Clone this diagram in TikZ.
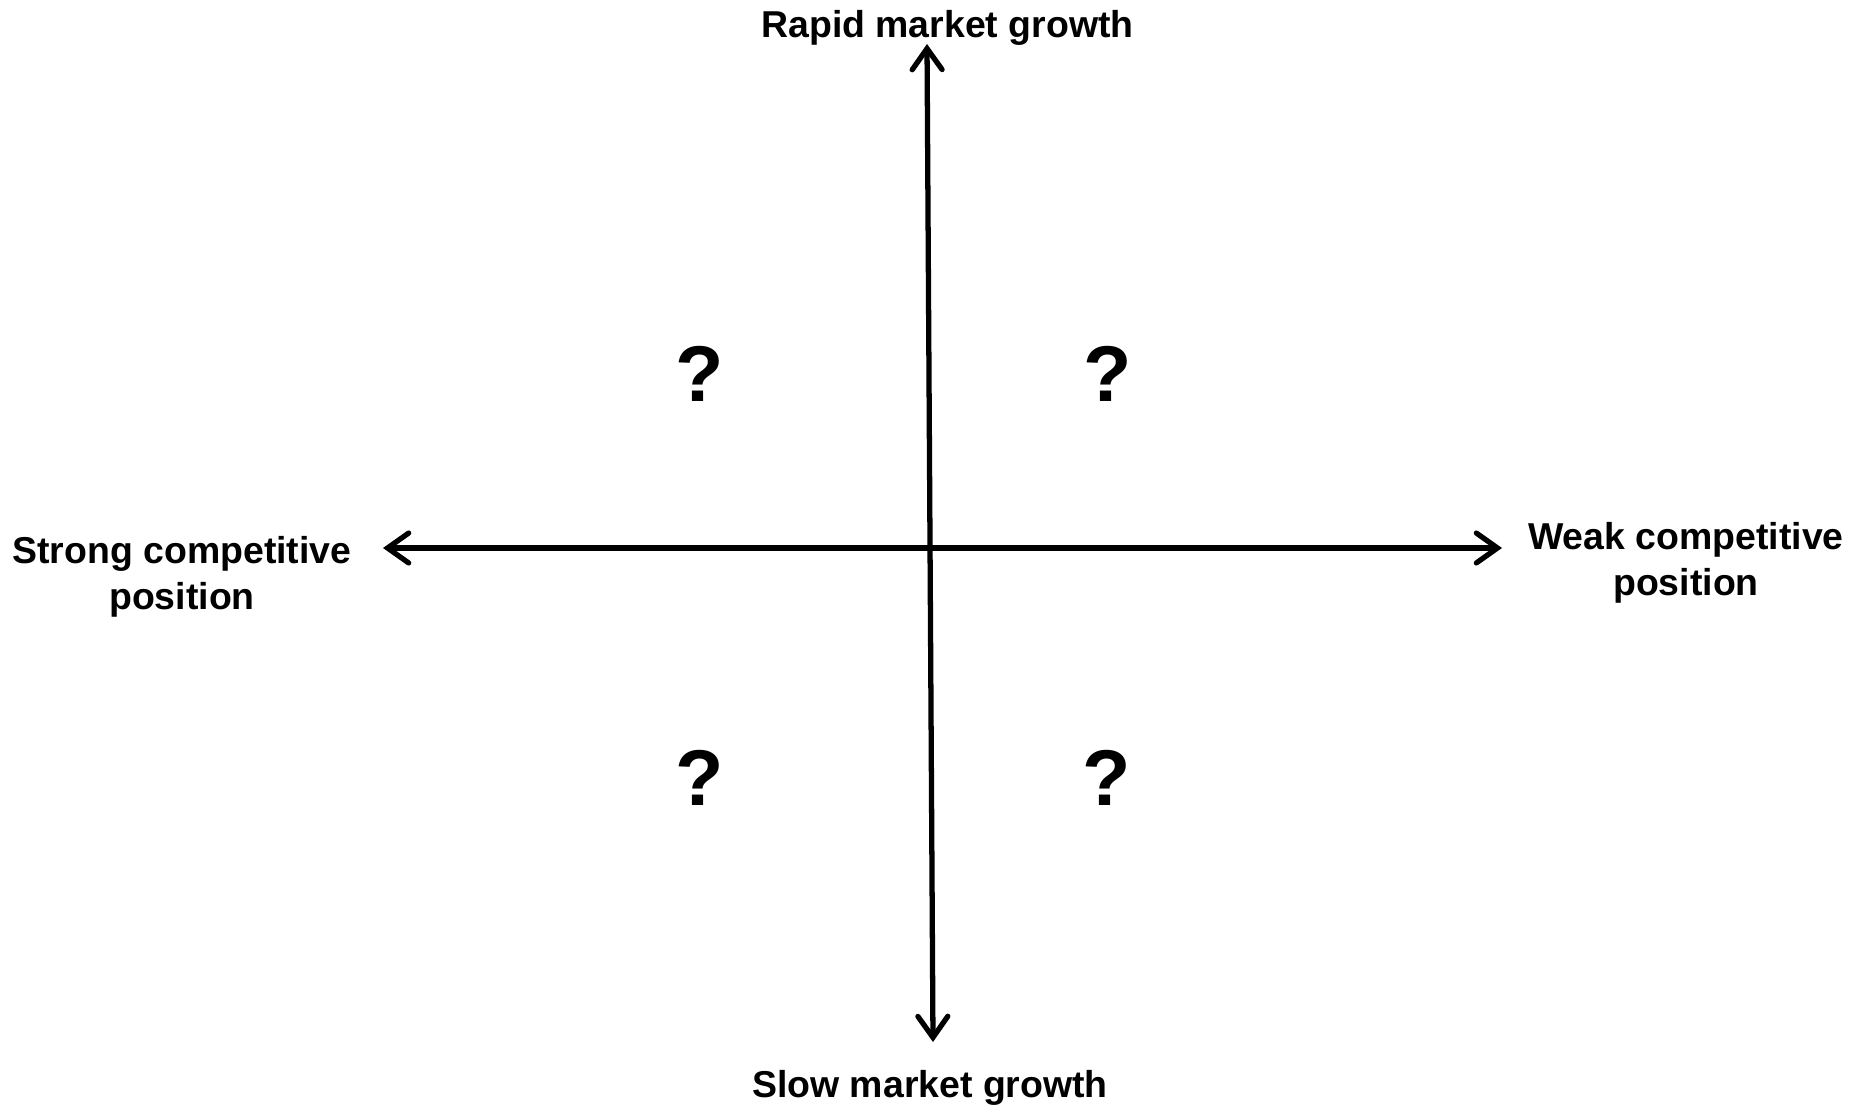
\documentclass[tikz,border=0pt]{standalone}
\usepackage{fontspec}
\setmainfont{Liberation Sans}
\usepackage{tikz}
\usetikzlibrary{arrows.meta,positioning}

\begin{document}
\begin{tikzpicture}[
    font=\bfseries\fontsize{10.65}{13.2}\selectfont,
    axis/.style={{Straight Barb[length=6pt,width=8.5pt,line cap=round]}-{Straight Barb[length=6pt,width=8.5pt,line cap=round]}, line width=1.5pt, line cap=round},
    lab/.style={inner sep=0pt, align=center},
    qmark/.style={inner sep=0pt, font=\bfseries\fontsize{22.5}{27}\selectfont}
]
\useasboundingbox (0,0) rectangle (18.62,11.05);

% axis ends
\coordinate (top) at (9.27,10.61);
\coordinate (bottom) at (9.33,0.63);
\coordinate (left) at (3.83,5.57);
\coordinate (right) at (15.02,5.57);

\draw[axis] (bottom) -- (top);
\draw[axis] (left) -- (right);

% axis labels
\node[lab, anchor=base] (rapid) at (9.475,10.67) {Rapid market growth};
\node[lab, anchor=base] (slow) at (9.30,0.08) {Slow market growth};
\node[lab] (strong) at (1.82,5.28) {Strong competitive\\position};
\node[lab] (weak) at (16.86,5.42) {Weak competitive\\position};

% quadrants
\node[qmark] (q1) at (7.00,7.31) {?};
\node[qmark] (q2) at (11.08,7.31) {?};
\node[qmark] (q3) at (7.00,3.27) {?};
\node[qmark] (q4) at (11.07,3.27) {?};
\end{tikzpicture}
\end{document}
